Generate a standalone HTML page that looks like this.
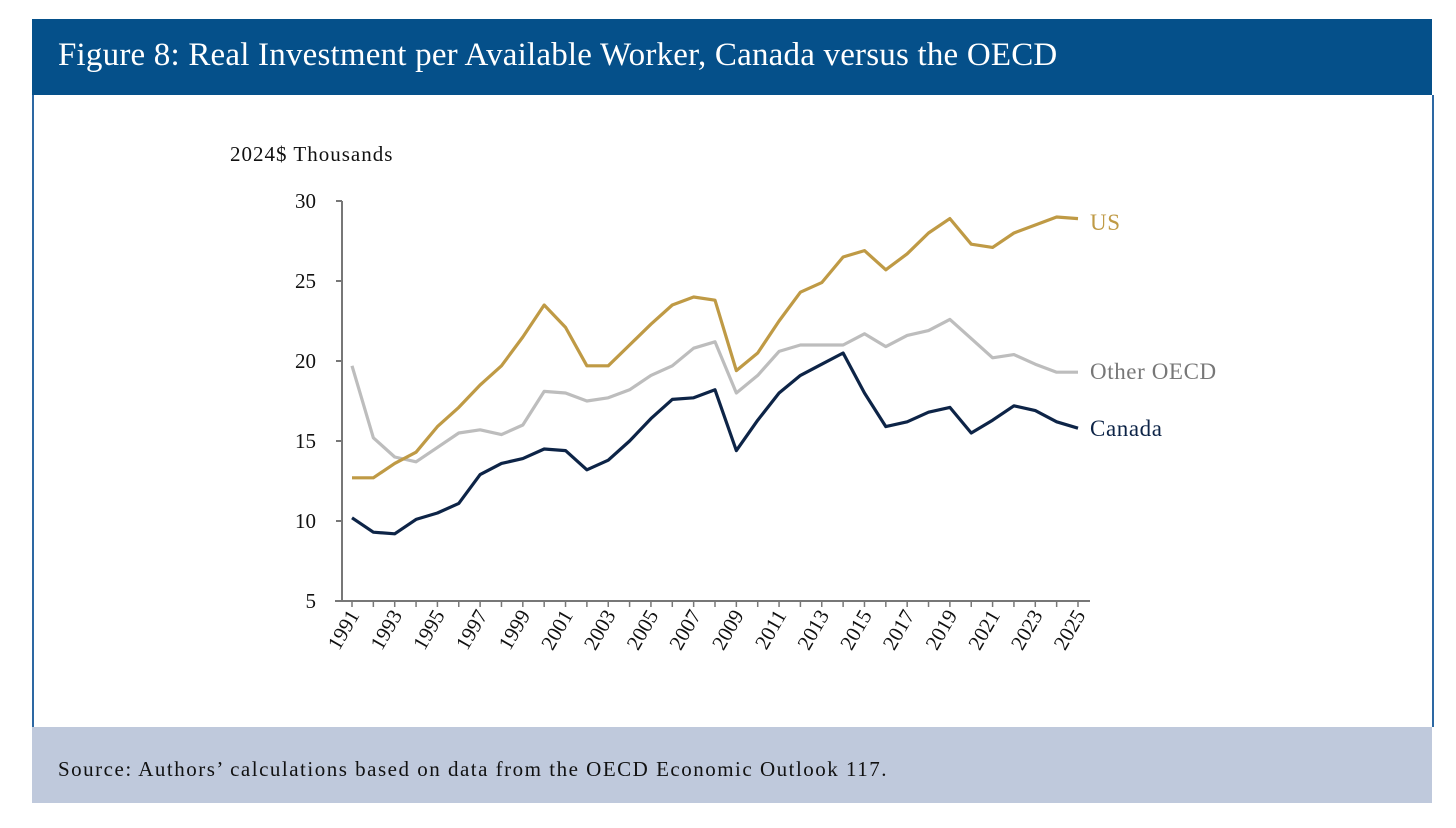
<!DOCTYPE html>
<html><head><meta charset="utf-8"><style>
body{margin:0;width:1456px;height:828px;background:#fff;overflow:hidden;font-family:"Liberation Serif",serif}
#hdr{position:absolute;left:32px;top:19px;width:1400px;height:76px;background:#05508a}
#hdr span{position:absolute;left:26px;top:18px;color:#fff;font-size:33px;letter-spacing:0.2px}
#frame{position:absolute;left:32px;top:95px;width:1398px;height:632px;border-left:2px solid #2d68a3;border-right:2px solid #2d68a3}
#src{position:absolute;left:32px;top:727px;width:1400px;height:76px;background:#bfc9dc}
#src span{position:absolute;left:26px;top:30px;font-size:21px;letter-spacing:1.5px;color:#111}
svg{position:absolute;left:0;top:0}
</style></head><body>
<div id="hdr"><span>Figure 8: Real Investment per Available Worker, Canada versus the OECD</span></div>
<div id="frame"></div>
<div id="src"><span>Source: Authors’ calculations based on data from the OECD Economic Outlook 117.</span></div>
<svg id="c" width="1456" height="828"></svg>
<script>
const years=[];for(let y=1991;y<=2025;y++)years.push(y);
const usVals=[12.7,12.7,13.6,14.3,15.9,17.1,18.5,19.7,21.5,23.5,22.1,19.7,19.7,21.0,22.3,23.5,24.0,23.8,19.4,20.5,22.5,24.3,24.9,26.5,26.9,25.7,26.7,28.0,28.9,27.3,27.1,28.0,28.5,29.0,28.9];
const oecdVals=[19.7,15.2,14.0,13.7,14.6,15.5,15.7,15.4,16.0,18.1,18.0,17.5,17.7,18.2,19.1,19.7,20.8,21.2,18.0,19.1,20.6,21.0,21.0,21.0,21.7,20.9,21.6,21.9,22.6,21.4,20.2,20.4,19.8,19.3,19.3];
const canVals=[10.2,9.3,9.2,10.1,10.5,11.1,12.9,13.6,13.9,14.5,14.4,13.2,13.8,15.0,16.4,17.6,17.7,18.2,14.4,16.3,18.0,19.1,19.8,20.5,18.0,15.9,16.2,16.8,17.1,15.5,16.3,17.2,16.9,16.2,15.8];
const yTicks=[5,10,15,20,25,30];
const X=i=>352+i*(1078-352)/(years.length-1);
const Y=v=>601-16*(v-5);
const s=document.getElementById('c');const NS='http://www.w3.org/2000/svg';
function mk(t,a){const e=document.createElementNS(NS,t);for(const k in a)e.setAttribute(k,a[k]);s.appendChild(e);return e;}
let e=mk('text',{x:230,y:161,'font-size':21,'letter-spacing':1,fill:'#111'});e.textContent='2024$ Thousands';


e=mk('line',{x1:342,y1:201,x2:342,y2:601,stroke:'#777','stroke-width':2});


e=mk('line',{x1:335,y1:601,x2:1090,y2:601,stroke:'#777','stroke-width':2});


yTicks.forEach(v=>{mk('line',{x1:336,y1:Y(v),x2:342,y2:Y(v),stroke:'#777','stroke-width':2});
const t=mk('text',{x:316,y:Y(v)+7,'font-size':21,'text-anchor':'end',fill:'#111'});t.textContent=v;

});
years.forEach((yr,i)=>{const x=X(i);mk('line',{x1:x,y1:601,x2:x,y2:607,stroke:'#777','stroke-width':1.5});
if(i%2===0){const t=mk('text',{x:x+8,y:615,'font-size':21,'text-anchor':'end',fill:'#111',transform:`rotate(-60 ${x+8} 615)`});t.textContent=yr;

}});
function line(vals,col,lcol,name,label,ly){const p=mk('polyline',{points:vals.map((v,i)=>X(i)+','+Y(v)).join(' '),fill:'none',stroke:col,'stroke-width':3.2,'stroke-linejoin':'round'});


const t=mk('text',{x:1090,y:ly,'font-size':23,'letter-spacing':0.6,fill:lcol});t.textContent=label;

}
line(oecdVals,'#bdbdbd','#777','other-oecd-line','Other OECD',379);
line(usVals,'#bf9a45','#bf9a45','us-line','US',230);
line(canVals,'#0d2447','#0d2447','canada-line','Canada',436);
</script>
</body></html>
